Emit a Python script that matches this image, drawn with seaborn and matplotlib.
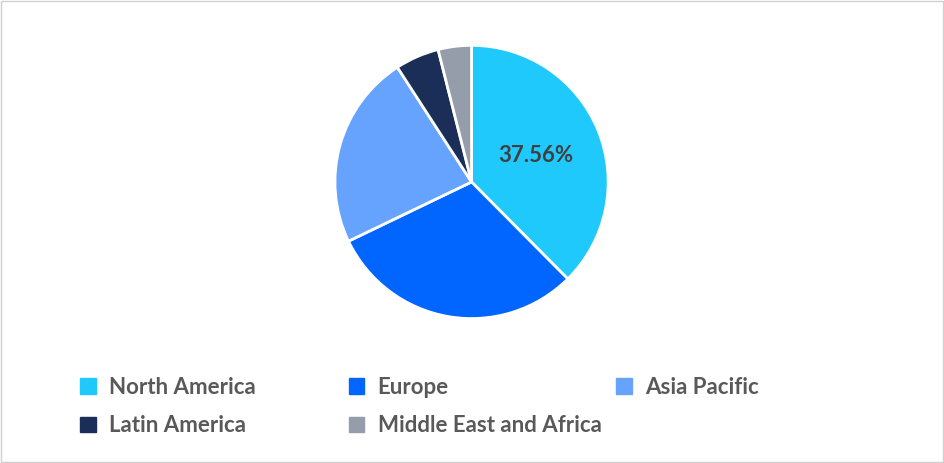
import matplotlib.pyplot as plt
import seaborn as sns
from matplotlib.patches import Patch, Rectangle

sns.set_theme(style="white")
plt.rcParams['font.family'] = ['Lato', 'DejaVu Sans']

regions = ["North America", "Europe", "Asia Pacific", "Latin America", "Middle East and Africa"]
shares = [37.56, 30.3, 23.0, 5.2, 3.94]
colors = ["#1FC9FC", "#0066FF", "#66A3FF", "#1B2E57", "#959CAA"]

fig = plt.figure(figsize=(9.45, 4.63), dpi=100)
fig.patches.append(Rectangle((0.001, 0.002), 0.997, 0.995, transform=fig.transFigure,
                             fill=False, edgecolor="#D0D0D0", linewidth=1))
ax = fig.add_axes([0.353, 0.309, 0.292, 0.596])

wedges, texts, autotexts = ax.pie(
    shares, colors=colors, startangle=90, counterclock=False,
    autopct="%.2f%%", pctdistance=0.51,
    wedgeprops=dict(edgecolor="white", linewidth=2),
    textprops=dict(color="#404040", fontsize=16, fontweight="bold"))
for t in autotexts[1:]:
    t.set_visible(False)
ax.set_aspect("equal")
ax.set_xlim(-1.01, 1.01)
ax.set_ylim(-1.01, 1.01)

# legend: 3 columns, row-wise
col_x = [0.085, 0.369, 0.652]
row_y = [0.164, 0.080]
for i, (r, c) in enumerate(zip(regions, colors)):
    fig.legend([Patch(color=c)], [r], loc="center left",
               bbox_to_anchor=(col_x[i % 3], row_y[i // 3]),
               frameon=False, handlelength=0.7, handleheight=0.7,
               handletextpad=0.6, borderpad=0, borderaxespad=0,
               prop=dict(size=16, weight="bold"), labelcolor="#595959")

fig.savefig("out.png", dpi=100)
